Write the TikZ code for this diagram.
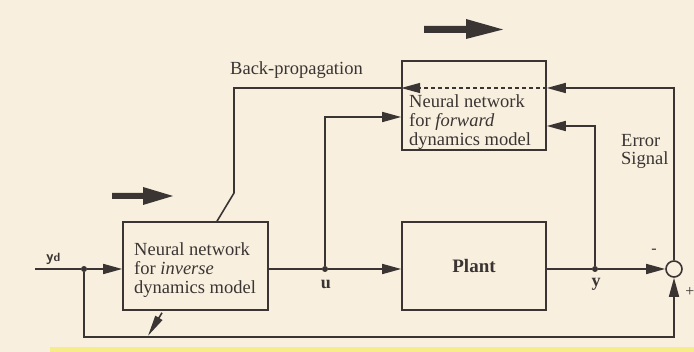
\documentclass[tikz,border=0pt]{standalone}
\usepackage{fontspec}
\setmainfont{Liberation Serif}
\usetikzlibrary{arrows.meta,calc}
\definecolor{paper}{HTML}{F8EFDF}
\definecolor{ink}{HTML}{3A3533}
\definecolor{hl}{HTML}{F7EC8A}
\begin{document}
\begin{tikzpicture}[x=1pt,y=-1pt,
  line/.style={draw=ink,line width=1.6pt},
  arr/.style={line,-{Triangle[length=19pt,width=10pt]}},
  blk/.style={draw=ink,line width=1.6pt,rectangle,inner sep=0pt},
  txt/.style={text=ink,font=\fontsize{18.5}{19}\selectfont,inner sep=0pt},
  lbl/.style={text=ink,font=\bfseries\fontsize{18}{18}\selectfont,inner sep=0pt},
  jdot/.style={circle,fill=ink,inner sep=0pt,minimum size=6pt},
  bigarrow/.style={fill=ink}]
\fill[paper] (0,0) rectangle (694,352);
\useasboundingbox (0,0) rectangle (694,352);
\fill[hl] (50,347) rectangle (694,352);

% blocks
\node[blk,minimum width=145pt,minimum height=88pt] (inv) at (195.5,266) {};
\node[blk,minimum width=144pt,minimum height=88pt,text=ink,
      font=\bfseries\fontsize{19}{19}\selectfont] (plant) at (474,266) {Plant};
\node[blk,minimum width=144pt,minimum height=89pt] (fwd) at (474,105.5) {};
\node[draw=ink,line width=1.6pt,circle,minimum size=16pt,inner sep=0pt] (sum) at (674,269) {};

% box texts
\node[txt,align=left,anchor=north west] (invtxt) at (134,242.5)
  {Neural network\\for \textit{inverse}\\dynamics model};
\node[txt,align=left,anchor=north west] (fwdtxt) at (409,94.5)
  {Neural network\\for \textit{forward}\\dynamics model};

% labels
\node[txt,anchor=base west] (bp) at (230,75) {Back-propagation};
\node[txt,align=left,anchor=north west,font=\fontsize{18.5}{17.5}\selectfont] (err) at (621,134.5) {Error\\Signal};
\node[lbl] (ulbl) at (326,284) {u};
\node[lbl] (ylbl) at (596,284) {y};
\node[lbl,anchor=base west,font=\bfseries\sffamily\fontsize{15}{15}\selectfont] (ydlbl) at (46,262) {y\fontsize{12}{12}\selectfont d};
\node[txt,font=\fontsize{16}{16}\selectfont] (minus) at (654,251) {-};
\node[txt,font=\fontsize{16}{16}\selectfont] (plus) at (690,292) {+};

% junctions and free ends
\coordinate (ydin) at (35,269);
\node[jdot] (jyd) at (84,269) {};
\node[jdot] (ju) at (325,269) {};
\node[jdot] (jy) at (595,269) {};
\coordinate (fbl) at (84,337);
\coordinate (bend) at (234,193);

% signal lines
\draw[line] (ydin) -- (jyd);
\draw[arr] (jyd) -- (jyd -| inv.west);
\draw[line] (inv.east |- ju) -- (ju);
\draw[arr] (ju) -- (ju -| plant.west);
\draw[arr] (ju) |- ($(fwd.west)+(0,11.5)$);
\draw[line] (plant.east |- jy) -- (jy);
\draw[arr] (jy) -- (sum.west);
\draw[arr] (jy) |- ($(fwd.east)+(0,20.5)$);
\draw[arr] (sum.north) |- ($(fwd.east)+(0,-17.5)$);
\draw[draw=ink,line width=1.4pt,dash pattern=on 4pt off 3pt,-{Triangle[length=19pt,width=10pt]}]
  ($(fwd.east)+(0,-17.5)$) -- ($(fwd.west)+(0,-17.5)$);
\draw[line] ($(fwd.west)+(0,-17.5)$) -| (bend) -- ($(inv.north)+(21.5,0)$);
\draw[arr,-{Triangle[length=21pt,width=8pt]}] ($(inv.south)+(-33.5,2)$) -- ++(-14,23);
\draw[arr] (jyd) -- (fbl) -| (sum.south);

% big direction arrows
\fill[bigarrow] (424,26) -- (466,26) -- (466,19) -- (503,29.5) -- (466,39) -- (466,33) -- (424,33) -- cycle;
\fill[bigarrow] (112,193) -- (143,193) -- (143,187) -- (173,196) -- (143,205) -- (143,199) -- (112,199) -- cycle;
\end{tikzpicture}
\end{document}
